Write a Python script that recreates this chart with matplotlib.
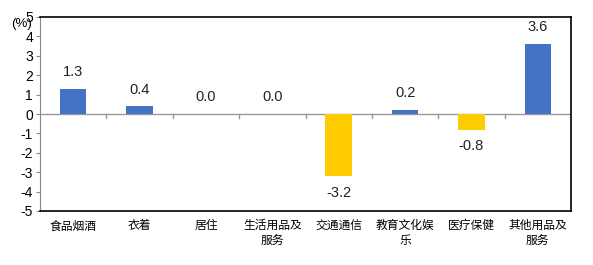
import matplotlib.pyplot as plt
import numpy as np

plt.rcParams['font.family'] = ['Noto Sans CJK SC', 'DejaVu Sans']

categories = ['食品烟酒', '衣着', '居住', '生活用品及\n服务', '交通通信', '教育文化娱\n乐', '医疗保健', '其他用品及\n服务']
values = [1.3, 0.4, 0.0, 0.0, -3.2, 0.2, -0.8, 3.6]
labels = ['1.3', '0.4', '0.0', '0.0', '-3.2', '0.2', '-0.8', '3.6']
yticks = [5, 4, 3, 2, 1, 0, -1, -2, -3, -4, -5]

blue = '#4472C4'
gold = '#FFCC00'
num_font = ['Liberation Sans', 'DejaVu Sans']

fig = plt.figure(figsize=(5.93, 2.65), dpi=100)
ax = fig.add_axes([40/593, 1 - 211/265, 531/593, 194/265])

x = np.arange(len(categories))
colors = [blue if v >= 0 else gold for v in values]
ax.bar(x, values, width=0.4, color=colors, zorder=3)

for xi, v, lab in zip(x, values, labels):
    if v >= 0:
        ax.text(xi, v + 0.5, lab, ha='center', va='bottom', fontsize=10.5,
                color='#222222', family=num_font)
    else:
        ax.text(xi, v - 0.5, lab, ha='center', va='top', fontsize=10.5,
                color='#222222', family=num_font)

ax.set_xlim(-0.5, len(categories) - 0.5)
ax.set_ylim(-5, 5)
ax.set_yticks(yticks)
ax.set_yticklabels([str(t) for t in yticks], fontsize=10, family=num_font)
ax.tick_params(axis='y', length=3, color='#888888', pad=2)

# zero line with tick marks between categories
ax.axhline(0, color='#999999', lw=1, zorder=2)
for b in np.arange(0.5, len(categories) - 0.5, 1):
    ax.plot([b, b], [0, -0.22], color='#999999', lw=1, zorder=2)

ax.set_xticks(x)
ax.set_xticklabels(categories, fontsize=8.5, linespacing=1.2, va='top')
ax.tick_params(axis='x', length=0, pad=6)

for s in ['top', 'right', 'bottom']:
    ax.spines[s].set_color('black')
    ax.spines[s].set_linewidth(1.2)
ax.spines['left'].set_color('#888888')

fig.text(22/593, 1 - 24/265, '(%)', fontsize=9.5, ha='center', va='center',
         family=num_font)

fig.savefig('out.png', dpi=100)
